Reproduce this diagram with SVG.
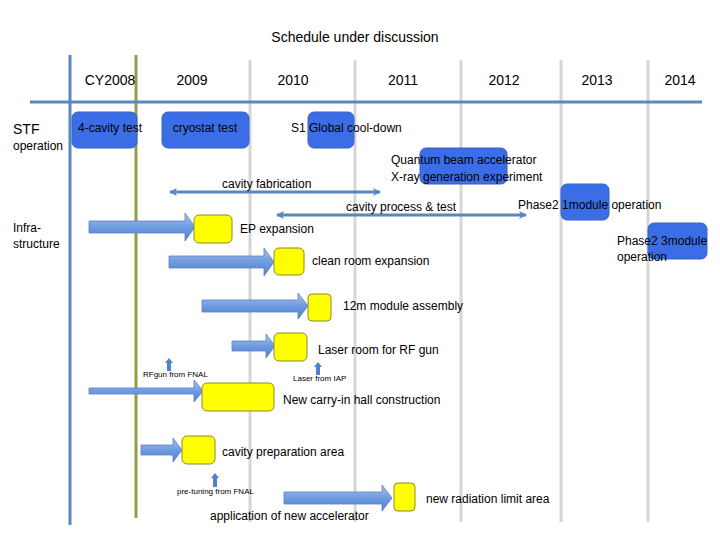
<svg xmlns="http://www.w3.org/2000/svg" width="720" height="540" viewBox="0 0 720 540">
<defs>
<linearGradient id="ga" x1="0" y1="0" x2="0" y2="1"><stop offset="0" stop-color="#a9c4ea"/><stop offset="0.5" stop-color="#6f9be0"/><stop offset="1" stop-color="#4f81cf"/></linearGradient>
<marker id="ah" markerWidth="8" markerHeight="8" refX="7" refY="4" orient="auto-start-reverse" markerUnits="userSpaceOnUse"><path d="M0,0 L8,4 L0,8 L2,4 Z" fill="#5b87c0"/></marker>
</defs>
<style>
text{font-family:"Liberation Sans",Arial,sans-serif;font-size:12px;fill:#000}
.yr{font-size:14px}
.sm{font-size:8px}
.blue{fill:#3b6ee6;stroke:#3a62c0;stroke-width:1}
.yel{fill:#ffff00;stroke:#8a8a2a;stroke-width:1}
.ba{fill:url(#ga);stroke:#5a82c0;stroke-width:0.8}
.grid{stroke:#d6d6d6;stroke-width:3}
.conn{stroke:#5b87c0;stroke-width:3;fill:none}
</style>
<rect width="720" height="540" fill="#fff"/>
<text x="355" y="42" text-anchor="middle" style="font-size:14px">Schedule under discussion</text>
<g id="grid">
<line class="grid" x1="250" y1="60" x2="250" y2="522"/>
<line class="grid" x1="355" y1="60" x2="355" y2="522"/>
<line class="grid" x1="461" y1="60" x2="461" y2="522"/>
<line class="grid" x1="561" y1="60" x2="561" y2="522"/>
<line class="grid" x1="648" y1="60" x2="648" y2="522"/>
<line x1="70" y1="55" x2="70" y2="525" stroke="#5b87c0" stroke-width="3"/>
<line x1="136" y1="55" x2="136" y2="518" stroke="#8ea04a" stroke-width="3"/>
<line x1="30" y1="102" x2="702" y2="102" stroke="#5b87c0" stroke-width="3"/>
</g>
<g id="years">
<text class="yr" x="110" y="85" text-anchor="middle">CY2008</text>
<text class="yr" x="192" y="85" text-anchor="middle">2009</text>
<text class="yr" x="293" y="85" text-anchor="middle">2010</text>
<text class="yr" x="403" y="85" text-anchor="middle">2011</text>
<text class="yr" x="504" y="85" text-anchor="middle">2012</text>
<text class="yr" x="597" y="85" text-anchor="middle">2013</text>
<text class="yr" x="680" y="85" text-anchor="middle">2014</text>
</g>
<text x="13" y="134" style="font-size:14px">STF</text>
<text x="13" y="150">operation</text>
<text x="13" y="232">Infra-</text>
<text x="13" y="248">structure</text>
<g id="n1"><rect class="blue" x="72" y="112" width="65" height="36" rx="6"/><text x="78" y="132">4-cavity test</text></g>
<g id="n2"><rect class="blue" x="162" y="112" width="87" height="36" rx="6"/><text x="205" y="132" text-anchor="middle">cryostat test</text></g>
<g id="n3"><rect class="blue" x="308" y="112" width="46" height="36" rx="6"/><text x="291" y="132">S1 Global cool-down</text></g>
<g id="n4"><rect class="blue" x="420" y="148" width="87" height="36" rx="6"/><text x="391" y="164">Quantum beam accelerator</text><text x="391" y="181">X-ray generation experiment</text></g>
<g id="n5"><rect class="blue" x="561" y="184" width="48" height="36" rx="6"/><text x="518" y="209">Phase2 1module operation</text></g>
<g id="n6"><rect class="blue" x="648" y="223" width="59" height="36" rx="6"/><text x="617" y="245">Phase2 3module</text><text x="617" y="261">operation</text></g>
<g id="connectors">
<line class="conn" x1="170" y1="192" x2="380" y2="192" marker-start="url(#ah)" marker-end="url(#ah)"/>
<line class="conn" x1="277" y1="215" x2="526" y2="215" marker-start="url(#ah)" marker-end="url(#ah)"/>
<path class="ba" d="M89,221 H185 V213 L195,227 L185,241 V233 H89 Z"/>
<path class="ba" d="M169,256 H264 V248 L274,262 L264,276 V268 H169 Z"/>
<path class="ba" d="M202,300 H298 V293 L308,306 L298,319 V312 H202 Z"/>
<path class="ba" d="M232,341 H266 V334 L275,346 L266,358 V351 H232 Z"/>
<path class="ba" d="M89,388 H194 V380 L203,391 L194,402 V394 H89 Z"/>
<path class="ba" d="M141,445 H173 V438 L182,450 L173,462 V455 H141 Z"/>
<path class="ba" d="M284,492 H382 V485 L392,498 L382,511 V504 H284 Z"/>
<path d="M169,358 L173,363 L171,363 L171,371 L167,371 L167,363 L165,363 Z" fill="#4f81cf"/>
<path d="M318,362 L322,367 L320,367 L320,375 L316,375 L316,367 L314,367 Z" fill="#4f81cf"/>
<path d="M215,473 L219,478 L217,478 L217,487 L213,487 L213,478 L211,478 Z" fill="#4f81cf"/>
</g>
<text x="222" y="188">cavity fabrication</text>
<text x="346" y="211">cavity process &amp; test</text>
<g id="y1"><rect class="yel" x="194" y="215" width="38" height="28" rx="5"/><text x="240" y="233">EP expansion</text></g>
<g id="y2"><rect class="yel" x="274" y="248" width="30" height="27" rx="5"/><text x="312" y="265">clean room expansion</text></g>
<g id="y3"><rect class="yel" x="308" y="294" width="23" height="27" rx="4"/><text x="343" y="310">12m module assembly</text></g>
<g id="y4"><rect class="yel" x="274" y="333" width="33" height="28" rx="5"/><text x="318" y="354">Laser room for RF gun</text></g>
<g id="y5"><rect class="yel" x="202" y="383" width="72" height="28" rx="5"/><text x="283" y="404">New carry-in hall construction</text></g>
<g id="y6"><rect class="yel" x="182" y="436" width="33" height="28" rx="5"/><text x="222" y="456">cavity preparation area</text></g>
<g id="y7"><rect class="yel" x="394" y="483" width="21" height="28" rx="4"/><text x="426" y="503">new radiation limit area</text></g>
<text class="sm" x="143" y="377">RFgun from FNAL</text>
<text class="sm" x="293" y="381">Laser from IAP</text>
<text class="sm" x="177" y="494">pre-tuning from FNAL</text>
<text x="210" y="520">application of new accelerator</text>
</svg>
